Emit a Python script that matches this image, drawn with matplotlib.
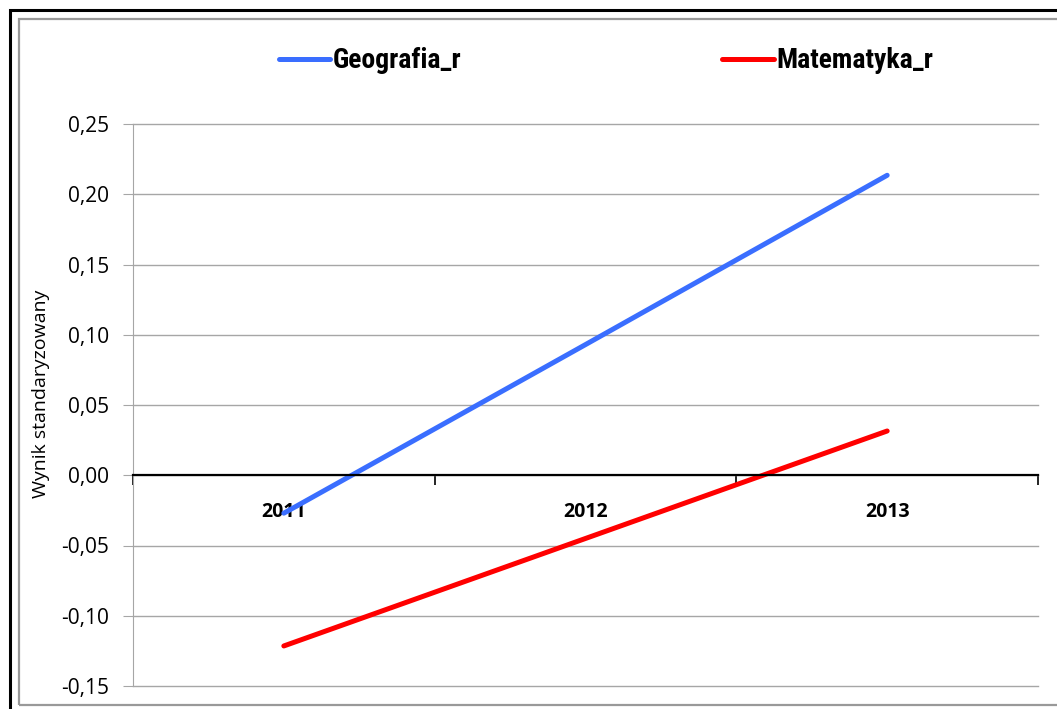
import matplotlib
matplotlib.use('Agg')
import numpy as np
import matplotlib.pyplot as plt
from matplotlib.patches import Rectangle
from matplotlib.ticker import FixedLocator, FuncFormatter
from matplotlib import font_manager

years = ['2011', '2012', '2013']
geografia = [-0.027, 0.093, 0.2135]
matematyka = [-0.1215, -0.045, 0.0315]
y_ticks = [-0.15, -0.10, -0.05, 0.00, 0.05, 0.10, 0.15, 0.20, 0.25]

plt.rcParams['font.family'] = ['Open Sans', 'DejaVu Sans']

# condensed bold font for the legend, if there is one
names = set(f.name for f in font_manager.fontManager.ttflist)
legend_family = 'DejaVu Sans'
for cand in ['Liberation Sans Narrow', 'DejaVu Sans Condensed', 'Roboto Condensed', 'Open Sans Condensed']:
    if cand in names:
        legend_family = cand
        break

fig = plt.figure(figsize=(10.57, 7.09), dpi=100)
ax = fig.add_axes([133/1057, 1 - 686/709, (1038 - 133)/1057, (686 - 124)/709])

# frame around the chart (cut off at right and bottom like the screenshot)
fig.patches.append(Rectangle((9.5/1057, -0.1), 1.2, (709 - 10)/709 + 0.1, transform=fig.transFigure,
                             fill=False, edgecolor='black', linewidth=2.2))
fig.patches.append(Rectangle((19/1057, 4/709), 1.2, (709 - 19 - 4)/709, transform=fig.transFigure,
                             fill=False, edgecolor='#999999', linewidth=1.6))

x = np.arange(len(years)) + 0.5
ax.plot(x, geografia, color='#3A6EFF', linewidth=3.6, solid_capstyle='round', label='Geografia_r')
ax.plot(x, matematyka, color='#FF0000', linewidth=3.6, solid_capstyle='round', label='Matematyka_r')

ax.set_xlim(0, 3)
ax.set_ylim(-0.15, 0.25)
ax.set_yticks(y_ticks)
ax.yaxis.set_major_formatter(FuncFormatter(lambda v, p: ('%.2f' % v).replace('.', ',')))
ax.grid(axis='y', color='#a6a6a6', linewidth=1.0)
for gl in ax.get_ygridlines():
    gl.set_clip_on(False)
ax.set_axisbelow(True)
ax.tick_params(axis='y', length=7, color='#a6a6a6', labelsize=15, pad=10)

for s in ['top', 'right']:
    ax.spines[s].set_visible(False)
ax.spines['left'].set_color('#a6a6a6')
ax.spines['bottom'].set_position(('data', 0))
ax.spines['bottom'].set_color('black')
ax.spines['bottom'].set_linewidth(1.6)

ax.xaxis.set_major_locator(FixedLocator([0, 1, 2, 3]))
ax.xaxis.set_major_formatter(FuncFormatter(lambda v, p: ''))
ax.xaxis.set_minor_locator(FixedLocator(list(x)))
ax.set_xticklabels(years, minor=True)
ax.tick_params(axis='x', which='major', length=7, direction='out', color='black', width=1.2)
ax.tick_params(axis='x', which='minor', length=0, pad=19, labelsize=14)
for lbl in ax.xaxis.get_minorticklabels():
    lbl.set_fontweight('bold')

ax.set_ylabel('Wynik standaryzowany', fontsize=14)
ax.yaxis.set_label_coords(-0.092, 0.52)

leg = fig.legend(loc='center', bbox_to_anchor=(606/1057, 1 - 61/709), ncol=2, frameon=False,
                 handlelength=1.87, handletextpad=0.08, columnspacing=9.4,
                 prop={'family': legend_family, 'weight': 'bold', 'size': 20})

fig.savefig('out.png', dpi=100)
